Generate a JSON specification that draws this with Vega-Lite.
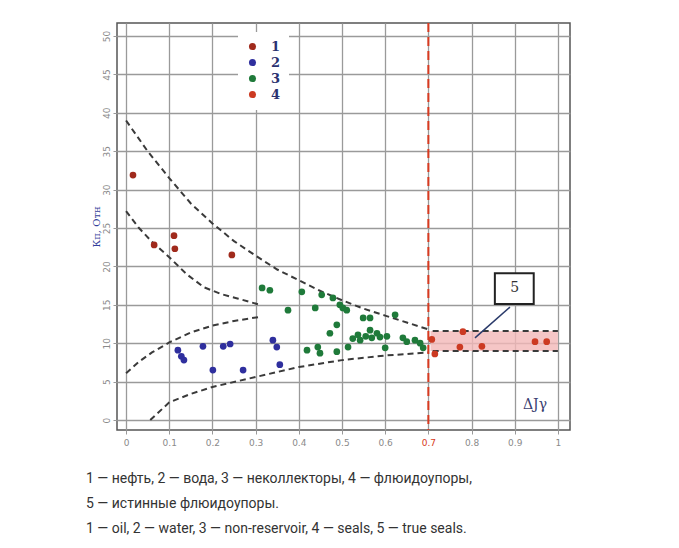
{
  "$schema": "https://vega.github.io/schema/vega-lite/v6.json",
  "width": 453,
  "height": 407,
  "autosize": {"type": "none"},
  "padding": {"left": 117, "top": 23, "right": 109, "bottom": 118},
  "background": "white",
  "config": {
    "view": {"stroke": "#555", "strokeWidth": 1.5},
    "axis": {
      "gridColor": "#9a9a9a", "gridWidth": 1.3, "gridOpacity": 1,
      "domain": false, "tickColor": "#999", "tickSize": 4,
      "labelColor": "#8a8a8a", "labelFontSize": 9, "labelFont": "DejaVu Sans"
    }
  },
  "title": {
    "text": ["1 — нефть, 2 — вода, 3 — неколлекторы, 4 — флюидоупоры,", "5 — истинные флюидоупоры.", "1 — oil, 2 — water, 3 — non-reservoir, 4 — seals, 5 — true seals."],
    "orient": "bottom",
    "anchor": "start",
    "dx": -5,
    "offset": 25,
    "font": "Roboto",
    "fontSize": 14,
    "fontWeight": "normal",
    "color": "#333333",
    "lineHeight": 25
  },
  "datasets": {
    "pts": [
      {"x": 0.016, "y": 31.9, "cls": "1"},
      {"x": 0.065, "y": 22.8, "cls": "1"},
      {"x": 0.111, "y": 24.0, "cls": "1"},
      {"x": 0.113, "y": 22.3, "cls": "1"},
      {"x": 0.245, "y": 21.5, "cls": "1"},
      {"x": 0.120, "y": 9.1, "cls": "2"},
      {"x": 0.128, "y": 8.3, "cls": "2"},
      {"x": 0.134, "y": 7.8, "cls": "2"},
      {"x": 0.178, "y": 9.6, "cls": "2"},
      {"x": 0.201, "y": 6.5, "cls": "2"},
      {"x": 0.225, "y": 9.6, "cls": "2"},
      {"x": 0.241, "y": 9.9, "cls": "2"},
      {"x": 0.271, "y": 6.5, "cls": "2"},
      {"x": 0.340, "y": 10.4, "cls": "2"},
      {"x": 0.349, "y": 9.5, "cls": "2"},
      {"x": 0.356, "y": 7.2, "cls": "2"},
      {"x": 0.315, "y": 17.2, "cls": "3"},
      {"x": 0.333, "y": 16.9, "cls": "3"},
      {"x": 0.375, "y": 14.3, "cls": "3"},
      {"x": 0.407, "y": 16.7, "cls": "3"},
      {"x": 0.438, "y": 14.6, "cls": "3"},
      {"x": 0.453, "y": 16.3, "cls": "3"},
      {"x": 0.479, "y": 15.9, "cls": "3"},
      {"x": 0.495, "y": 15.0, "cls": "3"},
      {"x": 0.502, "y": 14.6, "cls": "3"},
      {"x": 0.511, "y": 14.3, "cls": "3"},
      {"x": 0.488, "y": 12.4, "cls": "3"},
      {"x": 0.472, "y": 11.3, "cls": "3"},
      {"x": 0.419, "y": 9.1, "cls": "3"},
      {"x": 0.444, "y": 9.5, "cls": "3"},
      {"x": 0.449, "y": 8.7, "cls": "3"},
      {"x": 0.488, "y": 8.9, "cls": "3"},
      {"x": 0.514, "y": 9.5, "cls": "3"},
      {"x": 0.525, "y": 10.6, "cls": "3"},
      {"x": 0.537, "y": 11.1, "cls": "3"},
      {"x": 0.542, "y": 10.4, "cls": "3"},
      {"x": 0.549, "y": 13.3, "cls": "3"},
      {"x": 0.555, "y": 10.9, "cls": "3"},
      {"x": 0.565, "y": 13.3, "cls": "3"},
      {"x": 0.565, "y": 11.7, "cls": "3"},
      {"x": 0.569, "y": 10.7, "cls": "3"},
      {"x": 0.581, "y": 11.3, "cls": "3"},
      {"x": 0.588, "y": 10.8, "cls": "3"},
      {"x": 0.604, "y": 10.9, "cls": "3"},
      {"x": 0.600, "y": 9.4, "cls": "3"},
      {"x": 0.623, "y": 13.7, "cls": "3"},
      {"x": 0.641, "y": 10.7, "cls": "3"},
      {"x": 0.650, "y": 10.2, "cls": "3"},
      {"x": 0.669, "y": 10.4, "cls": "3"},
      {"x": 0.681, "y": 10.0, "cls": "3"},
      {"x": 0.688, "y": 9.4, "cls": "3"},
      {"x": 0.708, "y": 10.5, "cls": "4"},
      {"x": 0.715, "y": 8.6, "cls": "4"},
      {"x": 0.780, "y": 11.5, "cls": "4"},
      {"x": 0.773, "y": 9.5, "cls": "4"},
      {"x": 0.824, "y": 9.6, "cls": "4"},
      {"x": 0.947, "y": 10.2, "cls": "4"},
      {"x": 0.974, "y": 10.2, "cls": "4"}
    ],
    "curves": [
      {"c": "a", "o": 1, "x": 0.0, "y": 39.0},
      {"c": "a", "o": 2, "x": 0.05, "y": 35.0},
      {"c": "a", "o": 3, "x": 0.1, "y": 31.5},
      {"c": "a", "o": 4, "x": 0.15, "y": 28.2},
      {"c": "a", "o": 5, "x": 0.2, "y": 25.6},
      {"c": "a", "o": 6, "x": 0.25, "y": 23.3},
      {"c": "a", "o": 7, "x": 0.3, "y": 21.4},
      {"c": "a", "o": 8, "x": 0.35, "y": 19.6},
      {"c": "a", "o": 9, "x": 0.4, "y": 18.2},
      {"c": "a", "o": 10, "x": 0.45, "y": 16.8},
      {"c": "a", "o": 11, "x": 0.5, "y": 15.6},
      {"c": "a", "o": 12, "x": 0.55, "y": 14.5},
      {"c": "a", "o": 13, "x": 0.6, "y": 13.6},
      {"c": "a", "o": 14, "x": 0.65, "y": 12.7},
      {"c": "a", "o": 15, "x": 0.7, "y": 11.8},
      {"c": "b", "o": 1, "x": 0.0, "y": 27.2},
      {"c": "b", "o": 2, "x": 0.03, "y": 25.0},
      {"c": "b", "o": 3, "x": 0.06, "y": 23.2},
      {"c": "b", "o": 4, "x": 0.1, "y": 21.2},
      {"c": "b", "o": 5, "x": 0.14, "y": 19.0},
      {"c": "b", "o": 6, "x": 0.18, "y": 17.3},
      {"c": "b", "o": 7, "x": 0.22, "y": 16.4},
      {"c": "b", "o": 8, "x": 0.26, "y": 15.8},
      {"c": "b", "o": 9, "x": 0.31, "y": 15.0},
      {"c": "c", "o": 1, "x": 0.0, "y": 6.1},
      {"c": "c", "o": 2, "x": 0.03, "y": 7.6},
      {"c": "c", "o": 3, "x": 0.06, "y": 8.8},
      {"c": "c", "o": 4, "x": 0.1, "y": 10.1},
      {"c": "c", "o": 5, "x": 0.15, "y": 11.4},
      {"c": "c", "o": 6, "x": 0.2, "y": 12.3},
      {"c": "c", "o": 7, "x": 0.25, "y": 12.9},
      {"c": "c", "o": 8, "x": 0.306, "y": 13.4},
      {"c": "d", "o": 1, "x": 0.056, "y": 0.0},
      {"c": "d", "o": 2, "x": 0.1, "y": 2.3},
      {"c": "d", "o": 3, "x": 0.15, "y": 3.4},
      {"c": "d", "o": 4, "x": 0.2, "y": 4.3},
      {"c": "d", "o": 5, "x": 0.3, "y": 5.6},
      {"c": "d", "o": 6, "x": 0.4, "y": 6.9},
      {"c": "d", "o": 7, "x": 0.5, "y": 7.8},
      {"c": "d", "o": 8, "x": 0.6, "y": 8.4},
      {"c": "d", "o": 9, "x": 0.7, "y": 8.8},
      {"c": "e", "o": 1, "x": 0.71, "y": 11.6},
      {"c": "e", "o": 2, "x": 1.0, "y": 11.6},
      {"c": "f", "o": 1, "x": 0.71, "y": 9.0},
      {"c": "f", "o": 2, "x": 1.0, "y": 9.0}
    ]
  },
  "layer": [
    {
      "data": {"values": [{"x1": 0.705, "x2": 1.0, "y1": 9.0, "y2": 11.6}]},
      "mark": {"type": "rect", "color": "#f2b8b8", "opacity": 0.8},
      "encoding": {
        "x": {"field": "x1", "type": "quantitative",
          "scale": {"domain": [-0.021, 1.028], "nice": false, "zero": false},
          "axis": {"values": [0, 0.1, 0.2, 0.3, 0.4, 0.5, 0.6, 0.7, 0.8, 0.9, 1], "format": ".1~f", "title": null, "labelPadding": 4,
            "labelColor": {"condition": {"test": "datum.value > 0.69 && datum.value < 0.71", "value": "#d83a20"}, "value": "#8a8a8a"}}},
        "x2": {"field": "x2"},
        "y": {"field": "y1", "type": "quantitative",
          "scale": {"domain": [-1.3, 51.7], "nice": false, "zero": false},
          "axis": {"values": [0, 5, 10, 15, 20, 25, 30, 35, 40, 45, 50], "labelAngle": -90, "labelAlign": "center", "labelBaseline": "bottom", "labelPadding": 2,
            "title": "Кп, Отн", "titleFont": "DejaVu Serif", "titleFontSize": 10, "titleFontWeight": "normal", "titleColor": "#33409a", "titlePadding": 1}},
        "y2": {"field": "y2"}
      }
    },
    {
      "data": {"name": "curves"},
      "mark": {"type": "line", "color": "#3a3a3a", "strokeWidth": 2, "strokeDash": [6, 4]},
      "encoding": {
        "x": {"field": "x", "type": "quantitative"},
        "y": {"field": "y", "type": "quantitative"},
        "detail": {"field": "c"},
        "order": {"field": "o", "type": "quantitative"}
      }
    },
    {
      "data": {"values": [{"x": 0.7}]},
      "mark": {"type": "rule", "color": "#d83a20", "strokeWidth": 2, "strokeDash": [9, 5]},
      "encoding": {"x": {"field": "x", "type": "quantitative"}}
    },
    {
      "data": {"name": "pts"},
      "mark": {"type": "circle", "size": 45, "opacity": 1},
      "encoding": {
        "x": {"field": "x", "type": "quantitative"},
        "y": {"field": "y", "type": "quantitative"},
        "color": {"field": "cls", "type": "nominal",
          "scale": {"domain": ["1", "2", "3", "4"], "range": ["#a02a1c", "#2f2f9e", "#1f7a3a", "#cc3a22"]},
          "legend": {"title": null, "orient": "none", "legendX": 121, "legendY": 9, "fillColor": "white", "padding": 8,
            "symbolType": "circle", "symbolSize": 50, "labelFont": "DejaVu Serif", "labelFontSize": 13, "labelFontWeight": "bold",
            "labelColor": "#2a3270", "labelOffset": 12, "rowPadding": 2}}
      }
    },
    {
      "data": {"values": [{"x1": 0.889, "y1": 14.7, "x2": 0.808, "y2": 10.7}]},
      "mark": {"type": "rule", "color": "#2a3a6a", "strokeWidth": 1.5},
      "encoding": {
        "x": {"field": "x1", "type": "quantitative"},
        "y": {"field": "y1", "type": "quantitative"},
        "x2": {"field": "x2"},
        "y2": {"field": "y2"}
      }
    },
    {
      "data": {"values": [{"x1": 0.854, "x2": 0.944, "y1": 15.1, "y2": 19.1}]},
      "mark": {"type": "rect", "fill": "white", "stroke": "#222", "strokeWidth": 2},
      "encoding": {
        "x": {"field": "x1", "type": "quantitative"},
        "x2": {"field": "x2"},
        "y": {"field": "y1", "type": "quantitative"},
        "y2": {"field": "y2"}
      }
    },
    {
      "data": {"values": [{"x": 0.9, "y": 17.2, "t": "5"}]},
      "mark": {"type": "text", "font": "DejaVu Serif", "fontSize": 14, "align": "center", "baseline": "middle", "color": "#333333"},
      "encoding": {
        "x": {"field": "x", "type": "quantitative"},
        "y": {"field": "y", "type": "quantitative"},
        "text": {"field": "t"}
      }
    },
    {
      "data": {"values": [{"x": 0.947, "y": 1.9, "t": "ΔJγ"}]},
      "mark": {"type": "text", "font": "DejaVu Serif", "fontSize": 14, "align": "center", "baseline": "middle", "color": "#3a4070"},
      "encoding": {
        "x": {"field": "x", "type": "quantitative"},
        "y": {"field": "y", "type": "quantitative"},
        "text": {"field": "t"}
      }
    }
  ]
}
